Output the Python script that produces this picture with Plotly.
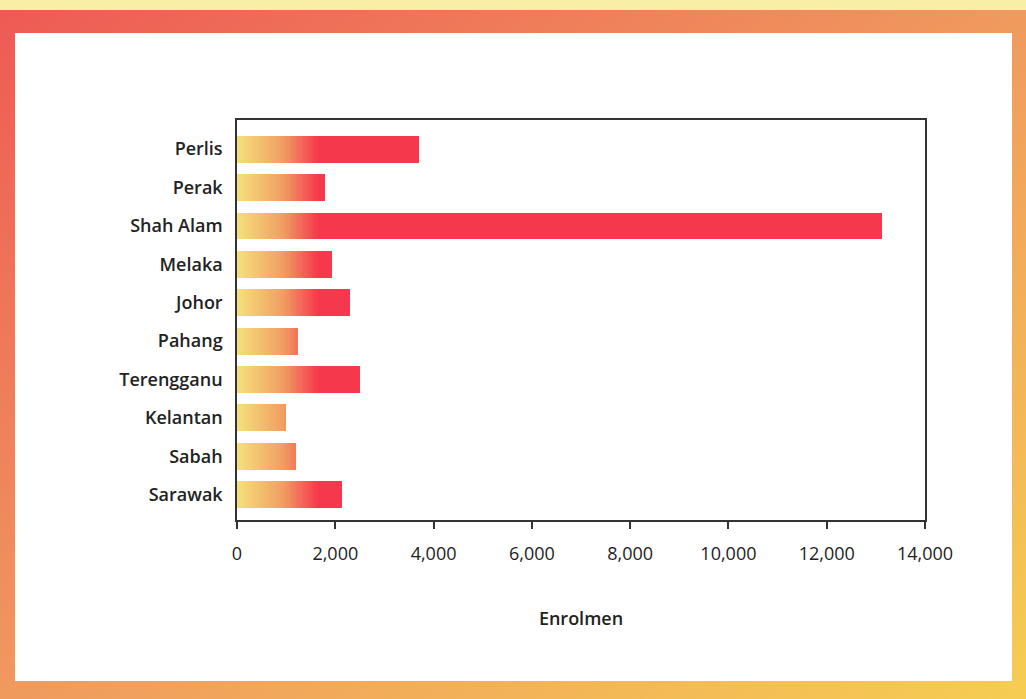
import base64
import numpy as np
import plotly.graph_objects as go
from plotly.colors import sample_colorscale

# ---- data ----
states = ["Perlis", "Perak", "Shah Alam", "Melaka", "Johor", "Pahang",
          "Terengganu", "Kelantan", "Sabah", "Sarawak"]
enrolmen = [3700, 1800, 13130, 1930, 2300, 1240, 2500, 1000, 1200, 2130]
x_ticks = [0, 2000, 4000, 6000, 8000, 10000, 12000, 14000]
x_tick_labels = ["0", "2,000", "4,000", "6,000", "8,000", "10,000", "12,000", "14,000"]

# ---- style ----
W, H = 1026, 699
ML, MR, MT, MB = 237, 101, 120, 179
PW, PH = W - ML - MR, H - MT - MB
bar_scale = [[0.0, "#F4E27A"], [0.55, "#F1A064"], [1.0, "#F6384C"]]
grad_end = 1650.0   # axis value where the bars reach full red
seg_w = 50.0
n_seg = int(grad_end / seg_w)

vals = np.array(enrolmen, dtype=float)
fig = go.Figure()
for j in range(n_seg + 1):
    lo = j * seg_w
    if j < n_seg:
        widths = np.clip(vals - lo, 0, seg_w)
        t = min((lo + seg_w / 2) / grad_end, 1.0)
    else:
        widths = np.clip(vals - lo, 0, None)
        t = 1.0
    col = sample_colorscale(bar_scale, [t])[0]
    fig.add_trace(go.Bar(
        y=states, x=widths, orientation="h",
        marker=dict(color=col, line=dict(width=0)),
        showlegend=False, hoverinfo="skip" if j else "x+y",
    ))

svg = f'''<svg xmlns="http://www.w3.org/2000/svg" width="{W}" height="{H}" viewBox="0 0 {W} {H}" preserveAspectRatio="none">
<defs><linearGradient id="g" x1="0" y1="0" x2="1" y2="1">
<stop offset="0" stop-color="#EE5A55"/><stop offset="0.5" stop-color="#F09A5E"/><stop offset="1" stop-color="#F6CD52"/>
</linearGradient></defs>
<rect x="0" y="0" width="{W}" height="{H}" fill="#F8EEA6"/>
<rect x="0" y="10" width="{W}" height="{H-10}" fill="url(#g)"/>
<rect x="15" y="33" width="997" height="648" fill="#FFFFFF"/>
</svg>'''
src = "data:image/svg+xml;base64," + base64.b64encode(svg.encode()).decode()

fig.update_layout(
    width=W, height=H, barmode="stack", bargap=0.3,
    margin=dict(l=ML, r=MR, t=MT, b=MB, pad=0),
    paper_bgcolor="white", plot_bgcolor="rgba(0,0,0,0)",
    font=dict(family="Open Sans", color="#222222"),
    images=[dict(source=src, xref="paper", yref="paper",
                 x=-ML / PW, y=1 + MT / PH, sizex=W / PW, sizey=H / PH,
                 xanchor="left", yanchor="top", sizing="stretch", layer="below")],
)
fig.update_xaxes(
    range=[0, 14000], tickvals=x_ticks, ticktext=x_tick_labels,
    ticks="outside", ticklen=7, tickwidth=1.5, tickcolor="#333333",
    showline=True, linecolor="#333333", linewidth=1.5, mirror=True,
    showgrid=False, zeroline=False, ticklabelstandoff=10,
    tickfont=dict(size=18, color="#222222", weight=500),
    title=dict(text="Enrolmen", font=dict(size=18, color="#222222", weight=600), standoff=48),
)
fig.update_yaxes(
    categoryorder="array", categoryarray=states,
    range=[9.66, -0.76], ticks="", showline=True, linecolor="#333333",
    linewidth=1.5, mirror=True, showgrid=False, zeroline=False,
    ticklabelstandoff=9, tickfont=dict(size=18, color="#222222", weight=600),
)
fig.write_html("out.html", config={"displayModeBar": False},
               post_script="document.body.style.margin='0';document.body.style.padding='0';")
